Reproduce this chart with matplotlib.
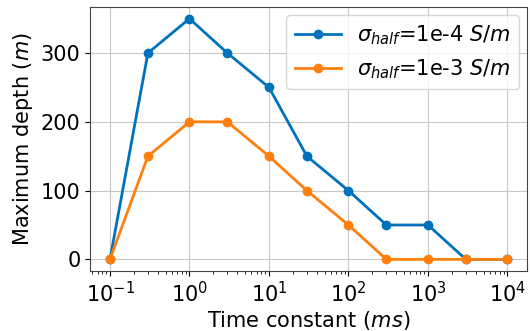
import matplotlib
matplotlib.use("Agg")
import matplotlib.pyplot as plt

time_constant = [0.1, 0.3, 1, 3, 10, 30, 100, 300, 1000, 3000, 10000]
depth_1e4 = [0, 300, 350, 300, 250, 150, 100, 50, 50, 0, 0]
depth_1e3 = [0, 150, 200, 200, 150, 100, 50, 0, 0, 0, 0]
labels = [r"$\sigma_{half}$=1e-4 $S/m$", r"$\sigma_{half}$=1e-3 $S/m$"]

plt.rcParams["font.size"] = 15
fig, ax = plt.subplots(figsize=(5.3, 3.31), dpi=100)
ax.plot(time_constant, depth_1e4, "-o", color="#0072BD", lw=2, ms=6, label=labels[0])
ax.plot(time_constant, depth_1e3, "-o", color="#FF7F0E", lw=2, ms=6, label=labels[1])
ax.set_xscale("log")
ax.set_xticks([1e-1, 1e0, 1e1, 1e2, 1e3, 1e4])
ax.set_yticks([0, 100, 200, 300])
ax.grid(True, color="#c8c8c8")
for s in ax.spines.values():
    s.set_color("#444444")
ax.set_xlabel("Time constant ($ms$)", labelpad=2)
ax.set_ylabel("Maximum depth ($m$)")
ax.legend(loc="upper right", handlelength=2.2, borderaxespad=0.4)
fig.subplots_adjust(left=0.17, right=0.995, top=0.98, bottom=0.18)
fig.savefig("out.png", dpi=100)
